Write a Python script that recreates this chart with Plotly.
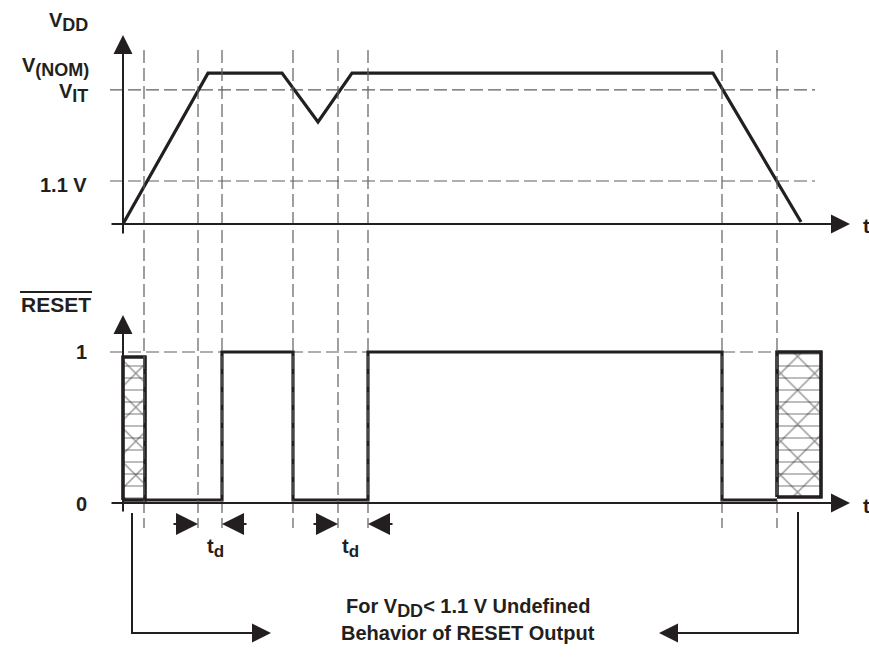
import plotly.graph_objects as go

W, H = 869, 664

# ---- data (time in arbitrary units, VDD in volts, RESET as logic level) ----
vdd_t = [0, 17, 31.8, 39, 45.8, 118, 135.6]
vdd_v = [0, 3.86, 3.86, 2.61, 3.86, 3.86, 0.05]
v_it = 3.43
v_min = 1.1
event_t = [4.2, 15, 19.8, 34, 43, 49, 119.8, 130.8]
reset_t = [4.4, 19.8, 19.8, 34, 34, 49, 49, 119.8, 119.8, 130.8]
reset_v = [0.02, 0.02, 1, 1, 0.02, 0.02, 1, 1, 0.02, 0.02]
undef_left_t = [0, 4.4]
undef_left_v = [0.02, 0.967]
undef_right_t = [130.8, 139.6]
undef_right_v = [0.04, 1.0]
td_pairs = [(15, 19.8), (43, 49)]

# ---- axis ranges (fit the canvas) ----
X_RANGE = [-24.6, 149.2]
Y1_RANGE = [-11.256, 5.730]
Y2_RANGE = [-1.066, 3.331]

INK = "#231f20"
DASH_C = "#5f5f5f"
FONT = "Liberation Sans, Arial, sans-serif"

def fx(px):
    return px / W

def fy(py):
    return 1 - py / H

fig = go.Figure()

DASH = dict(color=DASH_C, width=1.2, dash="13px,5px")

# dashed horizontal references
for lv in [v_it, v_min]:
    fig.add_trace(go.Scatter(x=[-2.6, 138.4], y=[lv, lv], mode="lines",
                             line=DASH, hoverinfo="skip", yaxis="y"))
fig.add_trace(go.Scatter(x=[-2.6, 138.4], y=[1, 1], mode="lines",
                         line=DASH, hoverinfo="skip", yaxis="y2"))

# vertical event lines spanning both panels
for t in event_t:
    fig.add_shape(type="line", xref="x", yref="paper", x0=t, x1=t,
                  y0=fy(50), y1=fy(528), line=DASH)

# hatched undefined regions
def hatch_box(ts, vs):
    xs = [ts[0], ts[1], ts[1], ts[0], ts[0]]
    ys = [vs[0], vs[0], vs[1], vs[1], vs[0]]
    fig.add_trace(go.Scatter(x=xs, y=ys, mode="lines", fill="toself",
                             fillcolor="white",
                             fillpattern=dict(shape="x", size=24, solidity=0.11,
                                              fgcolor=INK, bgcolor="white"),
                             line=dict(color=INK, width=3), hoverinfo="skip",
                             yaxis="y2"))
    fig.add_trace(go.Scatter(x=xs, y=ys, mode="lines", fill="toself",
                             fillcolor="rgba(0,0,0,0)",
                             fillpattern=dict(shape="-", size=12, solidity=0.1,
                                              fgcolor=INK, bgcolor="rgba(0,0,0,0)"),
                             line=dict(color=INK, width=3.2), hoverinfo="skip",
                             yaxis="y2"))

hatch_box(undef_left_t, undef_left_v)
hatch_box(undef_right_t, undef_right_v)

# VDD waveform
fig.add_trace(go.Scatter(x=vdd_t, y=vdd_v, mode="lines",
                         line=dict(color=INK, width=3.2), hoverinfo="skip", yaxis="y"))
# RESET waveform
fig.add_trace(go.Scatter(x=reset_t, y=reset_v, mode="lines",
                         line=dict(color=INK, width=3.2), hoverinfo="skip", yaxis="y2"))

ann = []

def arrow(x_tip, y_tip, x_tail, y_tail, yref, width=2, size=1.9):
    ann.append(dict(x=x_tip, y=y_tip, ax=x_tail, ay=y_tail, xref="x", yref=yref,
                    axref="x", ayref=yref, showarrow=True, arrowhead=2,
                    arrowsize=size, arrowwidth=width, arrowcolor=INK, text="",
                    standoff=0, startstandoff=0))

# axes with arrow heads
arrow(145.4, 0, -2.6, 0, "y")
arrow(0, 4.835, 0, -0.28, "y")
arrow(145.4, 0, -2.6, 0, "y2")
arrow(0, 1.245, 0, -0.066, "y2")

# td arrows
for a, b in td_pairs:
    arrow(a, -0.139, a - 5.2, -0.139, "y2", width=2, size=2.2)
    arrow(b, -0.139, b + 5.2, -0.139, "y2", width=2, size=2.2)

# bracket lines with arrows
Y_BR = -0.86
fig.add_trace(go.Scatter(x=[1.8, 1.8, 26], y=[-0.066, Y_BR, Y_BR], mode="lines",
                         line=dict(color=INK, width=2), hoverinfo="skip", yaxis="y2"))
arrow(29.6, Y_BR, 24, Y_BR, "y2", width=2, size=1.9)
fig.add_trace(go.Scatter(x=[135, 135, 110], y=[-0.06, Y_BR, Y_BR], mode="lines",
                         line=dict(color=INK, width=2), hoverinfo="skip", yaxis="y2"))
arrow(107.2, Y_BR, 113, Y_BR, "y2", width=2, size=1.9)

# RESET overline
fig.add_shape(type="line", xref="paper", yref="paper", x0=fx(20), x1=fx(92),
              y0=fy(292), y1=fy(292), line=dict(color=INK, width=2.2))

def label(px, py, text, xanchor="center", size=20):
    ann.append(dict(x=fx(px), y=fy(py), xref="paper", yref="paper", text=text,
                    showarrow=False, xanchor=xanchor, yanchor="middle",
                    font=dict(family=FONT, size=size, color=INK)))

SUB = "<sub><span style='font-size:{}px'>{}</span></sub>"

label(90, 22, "<b>V" + SUB.format(18, "DD") + "</b>", "right")
label(91, 67, "<b>V" + SUB.format(18, "(NOM)") + "</b>", "right")
label(90, 93, "<b>V" + SUB.format(18, "IT") + "</b>", "right")
label(89, 185, "<b>1.1 V</b>", "right")
label(56, 305, "<b>RESET</b>", size=21)
label(89, 352, "<b>1</b>", "right")
label(89, 504, "<b>0</b>", "right")
label(861, 226, "<b>t</b>", "left")
label(861, 506, "<b>t</b>", "left")
label(215, 548, "<b>t" + SUB.format(17, "d") + "</b>")
label(350, 548, "<b>t" + SUB.format(17, "d") + "</b>")
label(468, 608, "<b>For V" + SUB.format(18, "DD") + "< 1.1 V Undefined</b>", size=20)
label(468, 633, "<b>Behavior of RESET Output</b>", size=20)

fig.update_layout(
    width=W, height=H, margin=dict(l=0, r=0, t=0, b=0),
    paper_bgcolor="white", plot_bgcolor="white", showlegend=False,
    xaxis=dict(range=X_RANGE, visible=False, fixedrange=True),
    yaxis=dict(range=Y1_RANGE, visible=False, fixedrange=True),
    yaxis2=dict(range=Y2_RANGE, visible=False, overlaying="y", fixedrange=True),
    annotations=ann,
)

fig.write_html("out.html", config={"displayModeBar": False},
               post_script="document.body.style.margin='0px';")
